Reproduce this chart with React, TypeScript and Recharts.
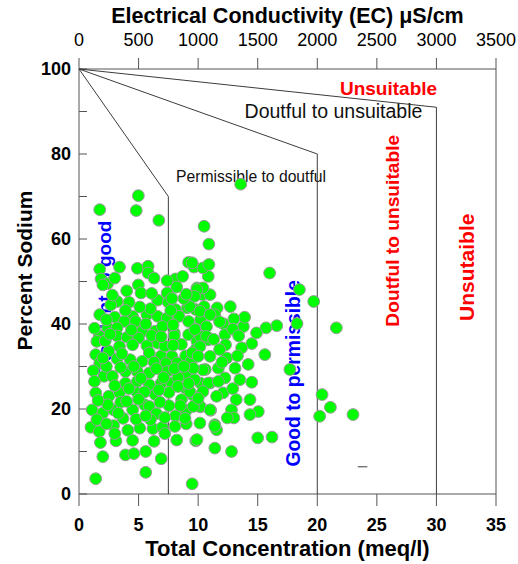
import { ScatterChart, Scatter, XAxis, YAxis, ReferenceLine, Label } from "recharts";

const font = "'Liberation Sans', Arial, Helvetica, sans-serif";

// samples: total concentration (meq/l) and percent sodium, same order
const tc = [
  4.98, 4.8, 1.74, 6.7, 10.5, 10.9, 1.74, 3.4, 4.9, 5.8,
  5.8, 1.85, 2.4, 2.0, 4.98, 5.2, 9.2, 9.65, 8.1, 8.7,
  8.2, 7.4, 9.9, 10.35, 9.65, 6.6, 7.5, 4.2, 3.2, 2.66,
  1.74, 3.0, 4.5, 5.7, 6.6, 8.1, 9.1, 9.8, 10.5, 3.8,
  4.75, 7.4, 8.4, 9.2, 10.2, 2.4, 3.2, 5.3, 6.4, 8.0,
  7.0, 9.85, 1.7, 1.5, 3.2, 4.05, 5.0, 6.6, 8.0, 9.2,
  9.9, 1.4, 2.5, 3.4, 4.5, 5.7, 5.9, 6.9, 7.8, 8.95,
  9.8, 1.74, 3.2, 4.3, 5.3, 6.3, 7.3, 8.25, 9.4, 2.1,
  2.8, 3.9, 4.9, 5.9, 7.4, 8.95, 3.9, 4.9, 5.9, 6.9,
  7.8, 10.2, 1.4, 2.5, 3.4, 4.9, 6.4, 7.55, 8.95, 9.5,
  1.1, 2.0, 2.9, 3.5, 4.5, 5.5, 5.9, 6.5, 7.55, 8.1,
  9.0, 10.2, 1.0, 1.7, 2.9, 4.1, 5.1, 6.2, 7.0, 7.2,
  8.05, 9.0, 1.8, 3.1, 9.8, 2.0, 3.9, 4.6, 5.6, 6.9,
  1.4, 5.6, 9.5, 4.8, 1.5, 16.0, 18.5, 19.7, 18.3, 16.6,
  15.7, 14.9, 14.5, 13.65, 15.6, 13.8, 13.9, 13.0, 12.7, 12.1,
  12.25, 12.3, 11.6, 11.4, 11.0, 10.4, 10.85, 10.4, 10.9, 9.5,
  10.7, 10.85, 10.2, 12.4, 11.7, 13.1, 13.5, 12.25, 14.5, 17.7,
  11.0, 10.6, 12.1, 13.2, 14.35, 15.05, 14.35, 12.8, 13.0, 12.45,
  11.05, 10.15, 11.55, 11.4, 9.9, 11.4, 12.8, 15.0, 16.2, 20.4,
  20.2, 21.1, 21.6, 23.0, 13.57, 9.9, 9.7, 9.3, 10.15, 11.0,
  9.73, 10.7, 10.15, 9.5, 11.0, 10.0, 10.4, 9.7, 10.85, 9.3,
  10.4, 11.55, 9.6, 11.0, 10.15, 11.4, 2.2, 3.6, 6.1, 7.2,
  8.6, 4.4, 6.0, 7.9, 2.3, 3.0, 5.2, 6.5, 8.3, 9.6,
  4.0, 6.8, 8.6, 3.7, 6.0, 8.5, 2.8, 3.9, 5.1, 7.7,
  1.2, 1.3, 2.3, 2.6, 3.5, 4.6, 4.2, 5.5, 6.7, 7.1,
  8.0, 8.8, 8.3, 9.2, 7.2, 8.9, 5.6, 3.3, 2.4, 1.6,
  3.0, 2.3, 6.9, 5.6, 7.8, 8.8, 6.1, 4.0, 3.0, 6.3,
  7.4, 9.0, 11.3, 12.9, 13.4, 11.8, 12.0, 13.3, 14.2, 11.7,
  12.9, 10.0, 8.2, 6.3, 4.5, 11.8, 7.9, 5.0, 2.0, 1.3,
];
const na = [
  70.2, 66.7, 66.9, 64.4, 63.0, 58.8, 52.9, 53.4, 53.1, 53.6,
  52.0, 50.6, 49.5, 49.2, 49.2, 47.3, 54.5, 53.4, 50.6, 51.2,
  48.7, 47.3, 48.5, 46.9, 46.9, 45.6, 45.1, 45.1, 45.3, 44.5,
  42.2, 41.6, 41.8, 42.2, 41.8, 43.4, 43.8, 43.4, 44.1, 40.6,
  40.6, 41.4, 41.8, 40.6, 41.0, 39.1, 39.1, 38.3, 38.3, 37.9,
  39.4, 38.7, 37.1, 35.9, 37.2, 36.9, 36.7, 35.5, 37.2, 37.5,
  35.9, 32.8, 33.6, 34.7, 35.1, 34.9, 33.2, 32.5, 32.4, 32.5,
  34.0, 30.8, 31.8, 31.6, 31.2, 31.0, 30.7, 30.8, 31.2, 27.7,
  27.7, 28.8, 28.8, 28.5, 28.8, 28.1, 26.1, 26.5, 25.7, 26.1,
  26.1, 26.1, 23.8, 23.0, 23.8, 23.8, 23.4, 23.9, 24.9, 23.4,
  19.8, 19.1, 19.8, 21.6, 19.8, 21.0, 20.6, 18.9, 20.8, 18.4,
  19.7, 20.5, 15.7, 14.7, 16.1, 15.0, 15.5, 15.4, 15.7, 14.2,
  15.9, 16.5, 12.1, 12.5, 12.5, 8.8, 9.2, 9.5, 10.0, 8.3,
  3.6, 5.1, 2.4, 17.6, 17.5, 52.0, 48.1, 45.3, 40.1, 39.6,
  39.1, 37.9, 35.4, 34.4, 32.8, 39.4, 41.6, 41.2, 44.1, 40.1,
  37.5, 35.1, 43.8, 42.2, 46.9, 48.5, 51.2, 53.2, 54.0, 54.4,
  39.4, 36.3, 37.1, 32.0, 29.6, 29.6, 26.9, 27.3, 26.3, 29.3,
  26.1, 29.3, 23.8, 22.2, 22.2, 19.4, 18.7, 19.8, 17.9, 17.9,
  19.7, 20.6, 15.1, 16.3, 12.8, 10.8, 10.0, 13.2, 13.4, 23.4,
  18.3, 20.4, 39.1, 18.7, 72.9, 48.1, 46.5, 44.1, 43.0, 42.2,
  38.7, 37.1, 34.7, 33.2, 32.4, 32.4, 29.2, 26.9, 26.1, 24.1,
  24.1, 23.0, 20.6, 19.8, 16.7, 15.9, 36.0, 33.0, 37.3, 34.8,
  35.2, 38.6, 43.6, 39.8, 30.0, 25.5, 27.2, 29.5, 27.4, 29.6,
  21.8, 21.6, 22.2, 17.8, 17.5, 20.8, 46.8, 43.2, 44.0, 43.2,
  29.0, 26.5, 41.0, 37.6, 29.8, 30.0, 24.8, 24.0, 24.5, 27.4,
  29.5, 30.0, 25.3, 26.0, 18.0, 17.8, 18.4, 19.0, 21.0, 22.0,
  14.2, 16.5, 37.0, 40.0, 46.0, 46.0, 47.2, 47.8, 50.8, 50.8,
  50.2, 47.0, 36.4, 38.8, 37.2, 34.0, 31.0, 32.5, 30.5, 26.5,
  24.8, 22.5, 12.7, 12.4, 12.6, 40.5, 35.0, 22.3, 32.0, 39.0,
];

const ecTicks = [0, 500, 1000, 1500, 2000, 2500, 3000, 3500];
const tcTicks = [0, 5, 10, 15, 20, 25, 30, 35];
const naTicks = [0, 10, 20, 30, 40, 50, 60, 70, 80, 90, 100];

// Wilcox class boundaries (meq/l, % Na)
const excellentX = [0, 7.5, 7.5];
const excellentY = [100, 70, 0];
const goodX = [0, 20, 20];
const goodY = [100, 80, 0];
const doubtfulX = [0, 30, 30];
const doubtfulY = [100, 91, 0];
const strayX = [23.4, 24.2];
const strayY = [6.4, 6.4];

// class names and where they sit on the diagram
const classText = [
  "Unsuitable",
  "Doutful to unsuitable",
  "Permissible to doutful",
  "Doutful to unsuitable",
  "Unsutaible",
  "Good to permissible",
  "Excellent to good",
];
const classX = [25.98, 21.36, 14.44, 26.86, 33.15, 18.55, 2.69];
const classY = [93.95, 88.47, 73.3, 61.95, 53.36, 28.4, 45.7];

const classStyle = [
  { fill: "#ff0000", weight: "bold", size: 19, angle: 0 },
  { fill: "#111111", weight: "normal", size: 19.5, angle: 0 },
  { fill: "#111111", weight: "normal", size: 15.7, angle: 0 },
  { fill: "#ff0000", weight: "bold", size: 19.2, angle: -90 },
  { fill: "#ff0000", weight: "bold", size: 21, angle: -90 },
  { fill: "#0000ff", weight: "bold", size: 19.3, angle: -90 },
  { fill: "#0000ff", weight: "bold", size: 19, angle: -90 },
];

// EC in µS/cm is taken as 100 x total concentration in meq/l
const MEQ_TO_EC = 100;

const toPoints = (xs: number[], ys: number[]) => xs.map((x, i) => ({ x, y: ys[i] }));

const samples = toPoints(tc, na);
const classLabels = classText.map((text, i) => ({ x: classX[i], y: classY[i], i, text }));

const Dot = (p: any) => (
  <circle cx={p.cx} cy={p.cy} r={5.9} fill="#00ff00" stroke="#9b9b9b" strokeWidth={1} />
);

const NoMark = () => <g />;

const ClassLabel = (p: any) => {
  const s = classStyle[p.payload.i];
  return (
    <text
      x={p.cx}
      y={p.cy}
      textAnchor="middle"
      fill={s.fill}
      fontWeight={s.weight}
      fontSize={s.size}
      fontFamily={font}
      transform={s.angle ? `rotate(${s.angle} ${p.cx} ${p.cy})` : undefined}
    >
      {p.payload.text}
    </text>
  );
};

const YTitle = (p: any) => {
  const vb = p.viewBox;
  const cx = vb.x + 32;
  const cy = vb.y + vb.height / 2 - 11;
  return (
    <text
      x={cx}
      y={cy}
      textAnchor="middle"
      fontSize={21}
      fontWeight="bold"
      fontFamily={font}
      fill="#000"
      transform={`rotate(-90 ${cx} ${cy})`}
    >
      Percent Sodium
    </text>
  );
};

const lineStyle = { stroke: "#3c3c3c", strokeWidth: 1 };

export default function App() {
  return (
    <div style={{ position: "absolute", left: 0, top: 0, background: "#fff" }}>
      <ScatterChart width={518} height={564} margin={{ top: 0, right: 22, bottom: 0, left: 0 }}>
        <XAxis
          xAxisId="ec"
          orientation="top"
          type="number"
          dataKey={(d: any) => d.x * MEQ_TO_EC}
          domain={[0, 3500]}
          allowDataOverflow
          ticks={ecTicks}
          interval={0}
          height={69}
          tickSize={11}
          tickMargin={12}
          stroke="#555"
          tick={{ fill: "#000", fontSize: 18, fontFamily: font }}
        >
          <Label
            value="Electrical Conductivity (EC) μS/cm"
            position="insideTop"
            offset={8}
            fontSize={21.5}
            fontWeight="bold"
            fontFamily={font}
            fill="#000"
          />
        </XAxis>
        <XAxis
          xAxisId="tc"
          dataKey="x"
          type="number"
          domain={[0, 35]}
          ticks={tcTicks}
          interval={0}
          height={70}
          tickSize={12}
          tickMargin={12}
          stroke="#555"
          tick={{ fill: "#000", fontSize: 18, fontWeight: "bold", fontFamily: font }}
        >
          <Label
            value="Total Concentration (meq/l)"
            position="insideBottom"
            offset={8}
            fontSize={22}
            fontWeight="bold"
            fontFamily={font}
            fill="#000"
          />
        </XAxis>
        <YAxis
          dataKey="y"
          type="number"
          domain={[0, 100]}
          ticks={naTicks}
          interval={0}
          width={79}
          tickSize={-8}
          tickMargin={16}
          stroke="#555"
          tickFormatter={(v: number) => (v % 20 === 0 ? String(v) : "")}
          tick={{ fill: "#000", fontSize: 18, fontWeight: "bold", fontFamily: font }}
        >
          <Label content={YTitle} />
        </YAxis>
        <ReferenceLine xAxisId="tc" x={35} stroke="#555" />

        <Scatter xAxisId="ec" data={classLabels} shape={ClassLabel} isAnimationActive={false} />
        <Scatter xAxisId="tc" data={toPoints(excellentX, excellentY)} line={lineStyle} lineType="joint" fill="#3c3c3c" shape={NoMark} isAnimationActive={false} />
        <Scatter xAxisId="tc" data={toPoints(goodX, goodY)} line={lineStyle} lineType="joint" fill="#3c3c3c" shape={NoMark} isAnimationActive={false} />
        <Scatter xAxisId="tc" data={toPoints(doubtfulX, doubtfulY)} line={lineStyle} lineType="joint" fill="#3c3c3c" shape={NoMark} isAnimationActive={false} />
        <Scatter xAxisId="tc" data={toPoints(strayX, strayY)} line={lineStyle} lineType="joint" fill="#3c3c3c" shape={NoMark} isAnimationActive={false} />
        <Scatter xAxisId="tc" data={samples} shape={Dot} isAnimationActive={false} />
      </ScatterChart>
    </div>
  );
}
